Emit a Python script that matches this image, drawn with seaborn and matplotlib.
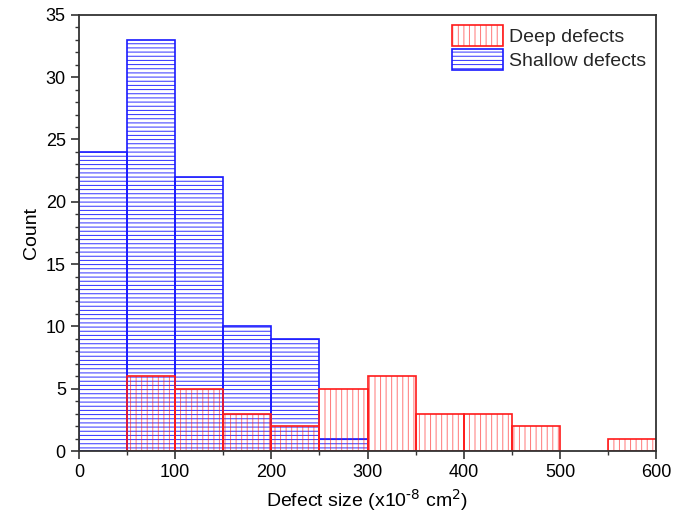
import numpy as np
import pandas as pd
import matplotlib
matplotlib.use('Agg')
import matplotlib.pyplot as plt
import matplotlib.colors as mcolors
from matplotlib.ticker import MultipleLocator
import seaborn as sns

# bin edges of the histogram (x10^-8 cm^2)
bin_edges = [0, 50, 100, 150, 200, 250, 300, 350, 400, 450, 500, 550, 600]
bin_centers = [25, 75, 125, 175, 225, 275, 325, 375, 425, 475, 525, 575]

# counts per bin
shallow_counts = [24, 33, 22, 10, 9, 1, 0, 0, 0, 0, 0, 0]
deep_counts = [0, 6, 5, 3, 2, 5, 6, 3, 3, 2, 0, 1]

df = pd.DataFrame({'size': bin_centers, 'shallow': shallow_counts, 'deep': deep_counts})

sns.set_style("ticks")
plt.rcParams['font.family'] = ['Liberation Sans', 'DejaVu Sans']
plt.rcParams['hatch.linewidth'] = 0.7
plt.rcParams['axes.unicode_minus'] = False

fig = plt.figure(figsize=(6.83, 5.18), dpi=100)
ax = fig.add_axes([0.1157, 0.1293, 0.845, 0.842])

blue = '#1a1aff'
red = '#ff1a1a'

sns.histplot(data=df, x='size', weights='shallow', bins=bin_edges, ax=ax,
             facecolor='none', edgecolor=blue, hatch='----', linewidth=1.2,
             alpha=1, label='Shallow defects')
n_shallow = len(ax.patches)
sns.histplot(data=df, x='size', weights='deep', bins=bin_edges, ax=ax,
             facecolor='none', edgecolor=red, hatch='|||', linewidth=1.2,
             alpha=1, label='Deep defects')


def tint_hatch(p, c, a):
    p.set_edgecolor(c)
    hc = mcolors.to_rgba(c, a)
    if hasattr(p, 'set_hatchcolor'):
        p.set_hatchcolor(hc)
    else:
        p._hatch_color = hc


# hatch colour follows the series colour
for i, p in enumerate(ax.patches):
    if i < n_shallow:
        tint_hatch(p, blue, 0.9)
    else:
        tint_hatch(p, red, 0.6)

# drop empty bins so they don't draw a line on the baseline
for p in list(ax.patches):
    if p.get_height() == 0:
        p.remove()

ax.set_xlim(0, 600)
ax.set_ylim(0, 35)
ax.xaxis.set_major_locator(MultipleLocator(100))
ax.xaxis.set_minor_locator(MultipleLocator(50))
ax.yaxis.set_major_locator(MultipleLocator(5))
ax.yaxis.set_minor_locator(MultipleLocator(1))
ax.tick_params(which='major', length=6, width=1.2, labelsize=13,
               labelcolor='black', color='#333333')
ax.tick_params(which='minor', length=3, width=1.0, color='#333333')
for s in ax.spines.values():
    s.set_visible(True)
    s.set_linewidth(1.3)
    s.set_color('#333333')

ax.set_xlabel('Defect size (x10$^{\\text{-8}}$ cm$^{2}$)', fontsize=14, color='black')
ax.set_ylabel('Count', fontsize=14, color='black')

handles, labels = ax.get_legend_handles_labels()
order = [labels.index('Deep defects'), labels.index('Shallow defects')]
leg = ax.legend([handles[i] for i in order], [labels[i] for i in order],
                loc='upper right', frameon=False, fontsize=14,
                handlelength=2.6, handleheight=1.3, borderaxespad=0.1,
                handletextpad=0.35, labelspacing=0.15)
for h, l in zip(leg.legend_handles, [labels[i] for i in order]):
    if l == 'Deep defects':
        tint_hatch(h, red, 0.6)
    else:
        tint_hatch(h, blue, 0.9)

plt.savefig('out.png', dpi=100)
